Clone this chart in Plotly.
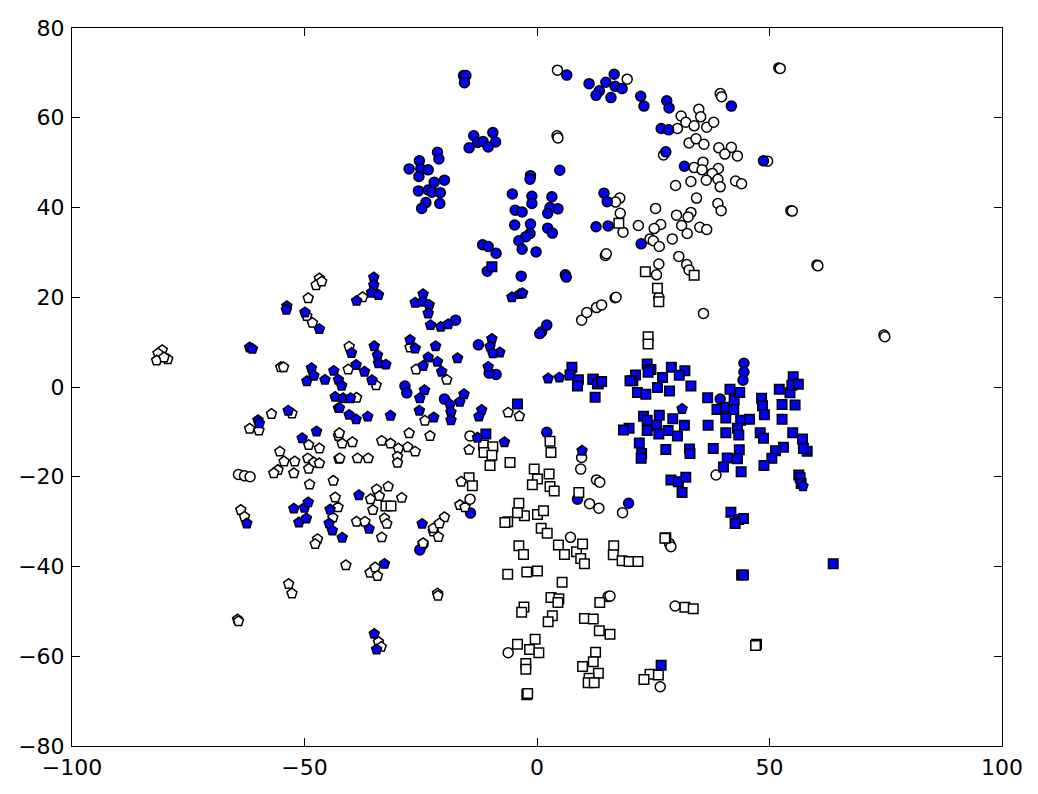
import plotly.graph_objects as go

# Blue circles
bc_x = [-15.8,-15.3,-15.6,6.4,11.2,14.8,16.6,16.8,13.4,12.7,15.9,18.3,
        22.3,23.0,27.9,28.4,26.7,28.3,27.7,31.7,41.8,48.7,
        14.4,15.1,15.3,12.7,22.4,4.9,
        -13.6,-9.5,-12.8,-11.6,-8.9,-14.6,-10.5,
        -21.4,-21.1,-25.3,-27.5,-25.0,-23.4,-25.4,-22.1,-19.9,-25.5,-23.4,-22.6,-20.8,-23.9,-24.8,-20.9,
        -1.4,-1.5,-5.3,-1.1,3.2,-4.7,-3.2,-1.1,2.8,4.5,2.3,-4.8,-1.4,2.3,3.3,-1.5,-2.4,-3.9,-3.2,-0.2,
        -11.7,-10.5,-8.8,-10.7,-3.4,6.1,6.3,
        1.0,2.1,0.6,
        -17.5,-12.6,-8.8,-10.3,-28.4,-28.0,-19.9,
        2.1,8.7,19.7,-14.3,-25.2,
        39.4,44.5,44.5,44.3]
bc_y = [69.4,69.4,67.8,69.5,67.6,67.9,69.7,67.0,66.0,65.0,64.5,66.5,
        64.8,62.6,63.8,62.2,57.6,57.3,52.4,49.2,62.6,50.4,
        43.2,41.3,35.9,35.7,31.9,48.3,
        56.0,56.7,54.5,54.7,54.6,53.3,53.5,
        52.3,50.8,50.4,48.6,48.6,48.4,46.9,45.6,46.1,43.7,43.9,43.4,43.3,41.1,39.8,40.9,
        47.1,46.3,43.0,42.5,42.4,39.4,39.0,40.9,40.0,39.7,38.7,36.1,36.3,35.4,34.3,34.2,33.5,32.6,30.7,30.1,
        31.7,31.3,29.8,25.8,24.7,25.0,24.5,
        12.3,13.8,11.9,
        14.9,9.4,2.8,3.1,0.2,-1.3,-2.7,
        -10.1,-25.0,-25.9,-28.1,-36.3,
        -2.7,5.3,3.3,1.5]

# White circles
wc_x = [4.4,4.3,4.5,19.4,
        39.4,39.7,34.8,31.0,35.2,32.0,33.8,36.5,30.2,38.0,32.7,34.2,35.9,39.1,41.8,40.4,43.1,27.2,49.6,
        33.8,35.7,35.5,39.0,37.7,38.9,39.4,36.4,33.1,29.8,42.7,44.0,34.3,38.9,39.6,25.5,17.8,16.9,17.9,
        30.0,33.1,32.5,21.8,26.6,25.2,31.1,35.0,36.5,32.3,18.5,24.3,25.0,29.1,26.3,30.5,26.2,32.2,32.7,
        25.7,26.2,35.8,14.7,14.9,16.8,17.0,52.0,52.3,54.6,54.9,60.2,60.4,74.6,74.8,
        9.6,10.7,12.8,13.9,
        -64.2,-62.9,-61.7,
        -14.4,9.6,9.4,12.8,13.5,11.3,13.3,7.2,-14.4,28.5,28.8,15.3,15.7,29.7,-6.2,26.5,18.4,-24.5,38.5]
wc_y = [70.6,56.0,55.5,68.6,
        65.4,64.7,61.9,60.4,60.2,59.0,58.2,57.9,57.6,59.0,54.4,55.3,54.1,53.3,53.4,51.9,51.5,51.7,50.3,
        48.9,50.1,48.4,48.7,47.6,46.3,44.6,46.1,45.8,44.9,45.9,45.3,42.1,40.9,39.3,39.8,42.1,41.2,38.7,
        38.3,38.9,37.9,36.0,36.2,35.3,36.0,35.6,35.1,34.2,34.5,33.0,32.6,33.0,31.3,29.1,27.4,27.3,26.1,
        25.0,20.0,16.4,29.3,29.7,19.9,20.0,71.1,71.0,39.3,39.2,27.2,27.0,11.6,11.2,
        14.9,16.6,17.7,18.3,
        -19.5,-19.8,-20.0,
        -10.9,-15.7,-18.3,-20.7,-21.2,-26.0,-27.0,-33.5,-25.0,-34.9,-35.6,-46.7,-46.6,-48.8,-59.2,-66.8,-28.0,-35.0,-19.6]

# Blue squares
bs_x = [12.1,13.2,12.5,23.7,24.5,23.9,21.2,20.6,28.9,31.8,30.6,27.0,25.9,21.6,23.4,28.5,33.1,
        22.9,23.7,26.3,29.2,25.7,28.2,30.2,31.7,26.2,23.7,19.8,18.6,22.0,22.5,22.4,27.7,32.8,32.9,
        28.8,30.4,32.0,31.2,36.7,38.7,40.6,42.4,41.5,43.6,42.3,40.6,43.8,45.7,36.8,43.1,43.4,40.6,
        37.9,43.5,40.9,43.1,40.1,43.9,48.3,48.5,48.9,52.1,54.4,55.1,54.8,56.2,52.7,55.5,52.7,48.0,
        48.7,55.0,57.1,58.1,57.3,53.0,51.3,50.5,48.8,56.3,56.6,56.8,
        7.5,7.1,8.9,8.7,12.0,13.0,13.9,-4.2,20.0,
        -11.0,-9.7,41.7,43.4,44.4,42.6,63.7,44.0,44.4,26.7]
bs_y = [1.7,0.7,-2.3,5.1,3.9,3.3,2.7,1.4,4.4,3.6,2.6,2.1,-0.1,-1.2,-1.6,-0.9,0.2,
        -6.5,-7.4,-6.3,-7.1,-8.5,-9.7,-10.9,-8.5,-10.5,-9.7,-9.2,-9.6,-12.5,-14.8,-15.9,-13.9,-13.8,-14.8,
        -20.7,-21.1,-20.1,-23.5,-2.4,-5.0,-4.5,-2.9,-0.5,-1.2,-5.0,-6.9,-7.4,-7.2,-8.5,-9.2,-10.7,-10.2,
        -13.7,-14.0,-15.8,-16.0,-17.8,-18.9,-2.5,-4.2,-6.2,-0.5,-1.3,2.3,0.4,0.6,-3.9,-4.0,-7.2,-10.2,
        -11.4,-10.2,-11.6,-14.3,-13.7,-13.4,-14.2,-15.9,-17.5,-19.6,-20.2,-21.5,
        4.4,2.7,1.6,0.2,1.7,0.7,1.2,-3.8,1.4,
        -10.5,26.8,-27.9,-29.5,-29.3,-30.4,-39.4,-41.9,-41.9,-62.0]

# White squares
ws_x = [-11.5,-9.5,-11.4,-9.7,-10.1,-5.8,2.8,3.0,-0.6,2.6,0.1,-1.0,2.8,3.7,9.0,-14.6,-13.9,
        -3.9,-2.7,-4.2,-6.3,-6.9,0.1,1.4,0.9,2.2,-3.9,-2.9,4.6,5.9,8.5,9.8,9.4,10.2,16.5,16.4,
        18.3,19.8,21.7,27.7,-6.3,-2.2,0.1,5.4,3.0,4.7,4.5,-2.8,-3.3,13.5,3.3,2.4,10.2,12.1,13.4,
        15.7,-4.2,-0.4,-1.6,0.4,-2.4,-2.4,12.6,9.8,12.1,13.2,11.2,11.0,12.3,-2.2,-2.0,24.3,23.0,
        26.1,27.5,31.8,33.6,47.2,47.0,
        17.6,23.3,33.8,25.9,26.2,23.9,23.9,
        -32.5,-31.4]
ws_y = [-12.9,-13.3,-14.6,-15.2,-17.5,-16.8,-12.1,-14.6,-18.3,-19.4,-20.5,-21.8,-22.2,-23.2,-23.5,-20.2,-22.0,
        -25.9,-28.7,-28.0,-30.0,-30.2,-28.4,-27.6,-31.5,-32.6,-35.4,-37.3,-35.2,-37.3,-36.7,-35.0,-38.2,-39.4,-35.4,-37.4,
        -38.7,-38.9,-38.9,-33.6,-41.7,-41.2,-41.0,-43.5,-46.9,-47.2,-48.0,-49.0,-50.2,-48.0,-51.0,-52.3,-51.6,-51.7,-54.3,
        -55.1,-57.3,-56.2,-58.5,-59.2,-61.6,-62.9,-59.1,-62.3,-61.2,-63.8,-64.9,-65.9,-65.9,-68.6,-68.3,-64.0,-65.2,
        -64.2,-33.7,-49.1,-49.4,-57.3,-57.6,
        36.5,25.7,24.9,22.0,19.0,11.2,9.6,
        -26.5,-26.5]

# White pentagons
wp_x = [-80.6,-81.5,-81.8,-79.4,-80.2,
        -49.2,-49.5,-48.3,-55.1,-54.5,-52.7,-57.1,-61.8,-59.8,-49.1,-46.8,
        -55.3,-54.4,-52.1,-55.7,-56.6,-52.3,-49.3,-48.0,-46.8,-49.1,-48.9,
        -63.7,-62.9,-53.4,-52.7,-64.4,-64.2,-46.8,-47.5,-46.3,-42.7,-42.6,
        -43.8,-43.4,-42.8,-43.9,-47.2,-47.7,
        -37.5,-27.3,-40.4,-40.6,-34.6,-26.0,-19.4,-38.8,-24.1,
        -42.5,-41.9,-39.7,-42.4,-38.6,-36.3,-33.4,-31.5,-29.8,-27.5,-27.8,-26.2,-30.0,-30.0,-23.0,
        -34.5,-32.0,-35.8,-33.9,-29.1,-35.3,-38.8,-37.0,-32.8,-32.3,-33.4,
        -24.5,-22.3,-21.2,-22.3,-19.9,-21.0,
        -41.1,-35.9,-34.8,-34.3,-21.4,-21.3,-34.1,-33.5,
        -16.6,-15.5,-6.2,-3.8,-14.6,-16.3]
wp_y = [8.2,7.5,5.9,6.2,6.6,
        19.8,15.8,14.3,4.4,4.4,-5.9,-6.0,-9.3,-9.7,-12.9,-13.7,
        -14.4,-16.6,-16.6,-18.5,-19.2,-19.2,-15.9,-16.8,-17.0,-18.2,-21.7,
        -27.4,-28.9,-43.9,-46.0,-51.8,-52.2,24.2,22.7,23.5,-10.9,-16.0,
        -20.9,-24.6,-26.8,-29.1,-33.9,-35.0,
        20.0,8.8,9.0,3.9,0.4,3.9,1.6,-2.4,-7.5,
        -10.3,-12.6,-12.3,-15.9,-15.9,-15.9,-12.0,-12.6,-13.7,-10.3,-13.4,-14.4,-15.5,-16.9,-10.9,
        -22.8,-22.2,-25.0,-24.3,-24.7,-27.4,-30.0,-30.0,-29.3,-30.5,-33.5,
        -34.8,-32.2,-33.4,-31.5,-29.0,-30.4,
        -39.7,-41.4,-40.2,-42.1,-46.0,-46.5,-56.8,-57.9,
        -26.3,-26.8,-5.7,-6.5,-14.0,-21.1]

# Blue pentagons
bp_x = [-53.8,-53.9,-49.9,-46.8,-61.8,-61.2,
        -49.5,-48.5,-48.0,-45.6,-43.7,-42.7,-53.5,-60.0,-59.7,-50.5,-47.4,-62.4,
        -52.3,-50.0,-49.2,-51.2,-49.6,-44.5,-44.7,-44.0,-41.9,
        -43.4,-42.7,-41.7,-40.1,-42.5,
        -35.1,-35.1,-35.6,-34.1,-38.8,
        -24.5,-26.2,-24.6,-23.2,-23.4,-22.9,-20.7,-19.1,
        -27.3,-26.2,-21.8,-39.9,-35.0,-34.3,-34.1,-32.5,
        -23.4,-21.4,-20.5,-17.1,-24.5,-38.9,-37.1,-35.5,-42.0,
        -40.4,-38.9,-36.4,-31.5,
        -25.2,-24.2,-25.3,-22.2,-18.7,-18.5,-18.5,-16.6,-15.7,-11.9,-12.5,
        -9.7,-10.1,-8.0,-9.5,-10.5,-7.0,-12.8,
        -38.3,-36.1,-24.7,-32.8,-35.0,-34.5,
        -5.4,-3.7,-3.1,2.4,4.8,9.7,31.2,57.2]
bp_y = [18.0,17.2,16.6,12.9,8.8,8.5,
        1.3,4.2,2.5,1.6,3.6,1.6,-5.3,-7.4,-8.1,-11.4,-9.9,-30.4,
        -27.1,-26.9,-25.7,-30.2,-29.3,-27.3,-30.4,-32.0,-33.6,
        -2.2,-4.7,-2.5,-2.5,-4.7,
        24.4,22.7,21.0,20.5,19.2,
        20.7,18.8,19.0,18.3,16.4,13.8,13.4,14.0,
        10.5,8.6,9.1,7.6,9.1,7.1,5.3,5.0,
        6.6,5.6,3.4,6.4,4.7,4.9,3.4,1.5,0.3,
        -6.2,-7.2,-6.6,-6.4,
        -2.5,-0.7,-5.3,-6.8,-3.9,-5.6,-7.4,-3.3,-1.6,-5.1,-6.6,
        10.7,9.0,7.7,7.5,4.5,-12.3,-11.3,
        -24.1,-31.6,-30.5,-39.4,-55.0,-58.5,
        20.0,20.7,20.9,1.9,2.1,-14.2,-4.9,-22.1]

x_ticks = [-100, -50, 0, 50, 100]
y_ticks = [-80, -60, -40, -20, 0, 20, 40, 60, 80]

BLUE = "#0000ff"
line = dict(color="black", width=1.5)

series = [
    (wc_x, wc_y, "circle", "white", 10),
    (bc_x, bc_y, "circle", BLUE, 10),
    (ws_x, ws_y, "square", "white", 9.5),
    (bs_x, bs_y, "square", BLUE, 9.5),
    (wp_x, wp_y, "pentagon", "white", 10.5),
    (bp_x, bp_y, "pentagon", BLUE, 10.5),
]

fig = go.Figure()
for xs, ys, sym, col, sz in series:
    fig.add_trace(go.Scatter(
        x=xs, y=ys, mode="markers",
        marker=dict(symbol=sym, color=col, size=sz, line=line),
        showlegend=False, hoverinfo="skip"))

axis_common = dict(
    showgrid=False, zeroline=False, showline=True, linecolor="black", linewidth=1,
    mirror="ticks", ticks="inside", ticklen=8, tickwidth=1, tickcolor="black",
    tickfont=dict(family="DejaVu Sans", size=22, color="black"),
    automargin=False,
)
fig.update_xaxes(range=[-100, 100], tickvals=x_ticks, ticklabelstandoff=2,
                 ticktext=[str(v).replace("-", "\u2212") for v in x_ticks], **axis_common)
fig.update_yaxes(range=[-80, 80], tickvals=y_ticks, ticklabelstandoff=2,
                 ticktext=[str(v).replace("-", "\u2212") for v in y_ticks], **axis_common)

fig.update_layout(
    width=1038, height=794,
    margin=dict(l=72, r=36, t=28, b=48),
    paper_bgcolor="white", plot_bgcolor="white",
)

fig.write_html("out.html", config={"displayModeBar": False},
               post_script="document.body.style.margin='0';document.body.style.padding='0';")
